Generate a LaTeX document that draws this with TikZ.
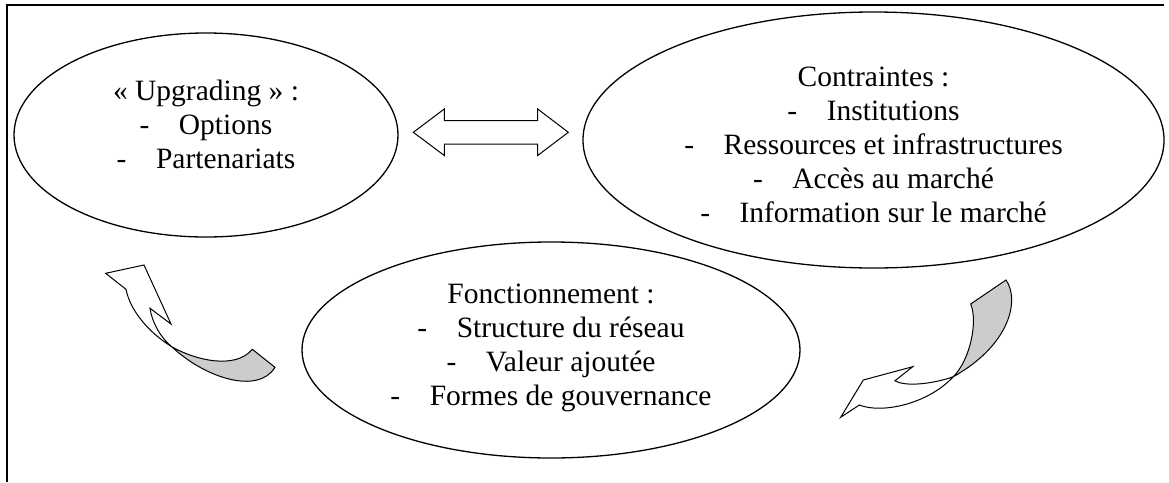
\documentclass[tikz,border=0pt]{standalone}
\usepackage{fontspec}
\setmainfont{Liberation Serif}
\usepackage{tikz}
\usetikzlibrary{shapes.geometric,positioning,calc}

\tikzset{
    bulle/.style={draw, ellipse, line width=1.3pt, inner sep=0pt},
    texte/.style={align=center, inner sep=0pt, font=\fontsize{29.5}{34}\selectfont},
    fleche/.style={draw, line width=1pt, line join=miter},
}

\begin{document}
\begin{tikzpicture}[x=1pt, y=-1pt]
    \useasboundingbox (0,0) rectangle (1169,482);

    % cadre
    \draw [line width=2pt] (1164,5) -- (7,5) -- (7,482);

    % les trois ellipses
    \node [bulle, minimum width=384pt, minimum height=204pt] (upg) at (206,135) {};
    \node [bulle, minimum width=581pt, minimum height=256pt] (contr) at (873.5,140) {};
    \node [bulle, minimum width=498pt, minimum height=216pt] (fonct) at (551,350) {};

    \node [texte] (upgtxt) at (206,124)
        {« Upgrading » :\\-\hspace{1em}Options\\-\hspace{1em}Partenariats};
    \node [texte] (contrtxt) at (873.5,145)
        {Contraintes :\\-\hspace{1em}Institutions\\-\hspace{1em}Ressources et infrastructures\\
         -\hspace{1em}Accès au marché\\-\hspace{1em}Information sur le marché};
    \node [texte] (foncttxt) at (551,348)
        {Fonctionnement :\\-\hspace{1em}Structure du réseau\\-\hspace{1em}Valeur ajoutée\\
         -\hspace{1em}Formes de gouvernance};

    % double fleche entre les ellipses du haut
    \draw [fleche] (413.3,132.3) -- (444.3,109) -- (444.3,120.7) -- (537.7,120.7)
        -- (537.7,109) -- (568.3,132.3) -- (537.7,155.5) -- (537.7,144)
        -- (444.3,144) -- (444.3,155.5) -- cycle;

    % fleche courbe a gauche
    \draw [fleche, fill=white] (171.7,346.7) .. controls (160,337) and (152,322) .. (150,308.3)
        -- (171,324) -- (144,265) -- (105.7,273.3) -- (126,289.3)
        .. controls (130,310) and (148,332) .. (171.7,346.7) -- cycle;
    \draw [fleche, fill=black!20] (171.7,346.7) .. controls (195,360) and (235,370) .. (252.3,349.3)
        -- (275,367.3) .. controls (258,395) and (205,378) .. (171.7,346.7) -- cycle;

    % fleche courbe a droite
    \draw [fleche, fill=white] (953.3,376.7) .. controls (933,384) and (905,387) .. (895,380.7)
        -- (912.7,366.7) -- (863.3,380) -- (840.7,417.3) -- (859.3,405)
        .. controls (882,414) and (928,404) .. (953.3,376.7) -- cycle;
    \draw [fleche, fill=black!20] (953.3,376.7) .. controls (970,360) and (978,322) .. (970.7,304)
        -- (1006,280) .. controls (1020,300) and (1010,345) .. (953.3,376.7) -- cycle;
\end{tikzpicture}
\end{document}
